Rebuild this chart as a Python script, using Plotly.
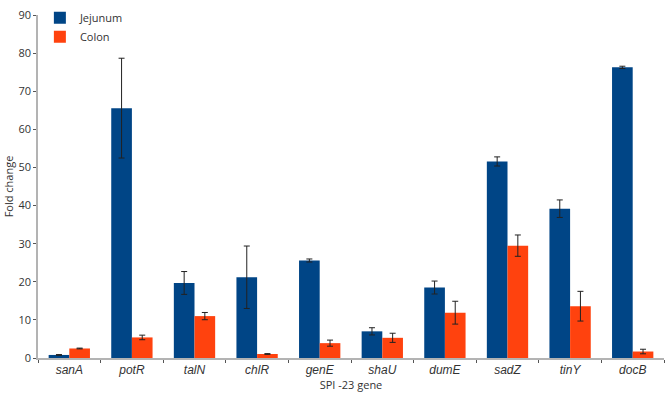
import plotly.graph_objects as go

genes = ["sanA", "potR", "talN", "chlR", "genE", "shaU", "dumE", "sadZ", "tinY", "docB"]
jejunum = [0.8, 65.6, 19.7, 21.2, 25.6, 7.0, 18.5, 51.6, 39.2, 76.3]
jejunum_err = [0.1, 13.1, 3.0, 8.2, 0.4, 0.95, 1.7, 1.2, 2.3, 0.3]
colon = [2.5, 5.4, 11.0, 1.05, 3.9, 5.3, 11.9, 29.5, 13.6, 1.7]
colon_err = [0.1, 0.6, 0.95, 0.1, 0.8, 1.2, 3.0, 2.8, 3.9, 0.6]
yticks = [0, 10, 20, 30, 40, 50, 60, 70, 80, 90]

xlabels = [f"<i>{g}</i>" for g in genes]

fig = go.Figure()
fig.add_trace(go.Bar(
    x=xlabels, y=jejunum, name="Jejunum", marker_color="#004586",
    marker_line_width=0,
    error_y=dict(type="data", array=jejunum_err, color="#222222", thickness=1, width=3),
))
fig.add_trace(go.Bar(
    x=xlabels, y=colon, name="Colon", marker_color="#ff420e",
    marker_line_width=0,
    error_y=dict(type="data", array=colon_err, color="#222222", thickness=1, width=3),
))

fig.update_layout(
    width=667, height=401,
    margin=dict(l=38, r=3, t=8, b=43),
    plot_bgcolor="white", paper_bgcolor="white",
    barmode="group", bargap=0.34, bargroupgap=0,
    font=dict(family="Open Sans, Liberation Sans, sans-serif", size=11, color="#333333"),
    showlegend=True,
    legend=dict(x=0.003, y=1.034, xanchor="left", yanchor="top",
                bgcolor="rgba(0,0,0,0)", font=dict(size=11, color="#333333"),
                itemwidth=30, tracegroupgap=0, traceorder="normal"),
    xaxis=dict(
        automargin=False,
        showline=True, linecolor="#b3b3b3", linewidth=1.5,
        ticks="outside", ticklen=3, tickcolor="#555555", tickson="boundaries",
        tickfont=dict(family="Liberation Sans, Arial, sans-serif", size=12, color="#333333"),
        title=dict(text="SPI -23 gene", font=dict(size=11, color="#333333"), standoff=2),
        showgrid=False,
    ),
    yaxis=dict(
        automargin=False,
        range=[0, 90.05], tickvals=yticks, showline=True, linecolor="#b3b3b3", linewidth=1.5,
        ticks="outside", ticklen=3, tickcolor="#555555", showgrid=False, zeroline=False,
        tickfont=dict(size=11, color="#333333"),
        title=dict(text="Fold change", font=dict(size=11, color="#333333"), standoff=3),
    ),
)

fig.write_html("out.html", config={"displayModeBar": False},
               post_script="document.body.style.margin='0';")
